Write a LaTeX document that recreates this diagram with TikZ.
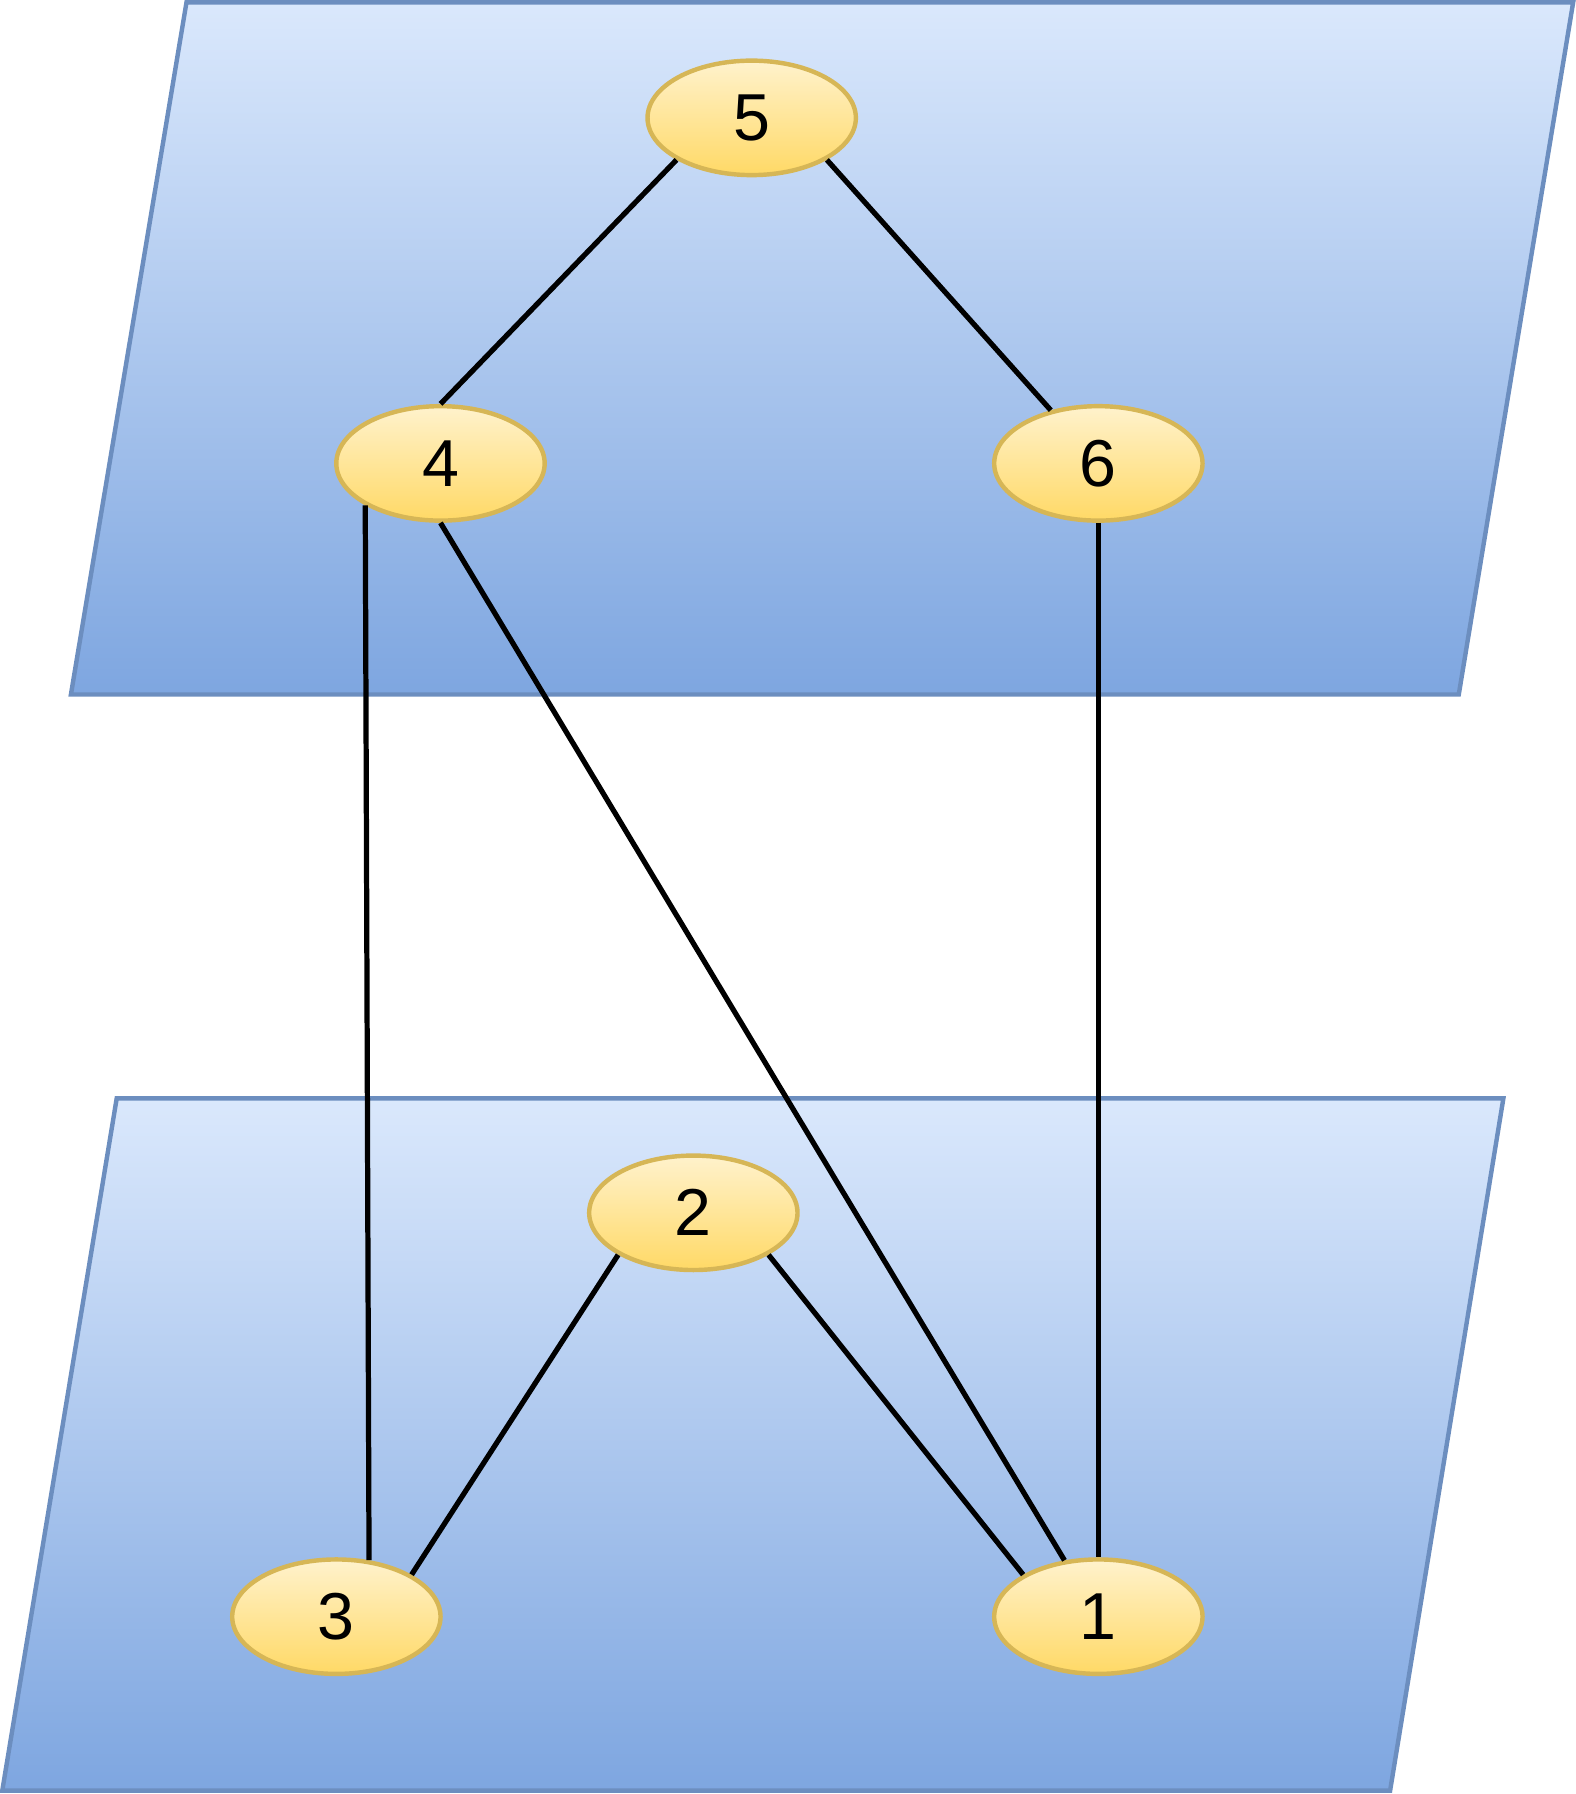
\documentclass[tikz,border=0pt]{standalone}
\usepackage{fontspec}
\setmainfont{Liberation Sans}
\usetikzlibrary{shapes.geometric}
\definecolor{planetop}{HTML}{DAE8FC}
\definecolor{planebot}{HTML}{7EA6E0}
\definecolor{planeline}{HTML}{6C8EBF}
\definecolor{vertextop}{HTML}{FFF2CC}
\definecolor{vertexbot}{HTML}{FFD966}
\definecolor{vertexline}{HTML}{D6B656}

\begin{document}
\begin{tikzpicture}[x=0.01cm,y=-0.01cm,
    plane/.style={draw=planeline,line width=1.1pt,top color=planetop,bottom color=planebot},
    vertex/.style={ellipse,draw=vertexline,line width=1.1pt,top color=vertextop,bottom color=vertexbot,
      minimum width=1.82cm,minimum height=1cm,inner sep=0pt,font=\fontsize{16.5}{19}\selectfont},
    edge/.style={line width=1.3pt}]
      \useasboundingbox (0,0) rectangle (1377,1568);
      \shade[plane] (163,2) -- (1375,2) -- (1275,607) -- (62,607) -- cycle;
      \shade[plane] (102,960) -- (1314,960) -- (1215,1565) -- (2,1565) -- cycle;
      \node[vertex] (v5) at (657,103) {5};
      \node[vertex] (v4) at (385,405) {4};
      \node[vertex] (v6) at (960,405) {6};
      \node[vertex] (v2) at (606,1060) {2};
      \node[vertex] (v3) at (294,1413) {3};
      \node[vertex] (v1) at (960,1413) {1};
      \draw[edge] (v5.south west) -- (v4.north);
      \draw[edge] (v5.south east) -- (v6);
      \draw[edge] (v4.south west) -- (v3.60);
      \draw[edge] (v4.south) -- (v1);
      \draw[edge] (v6.south) -- (v1.north);
      \draw[edge] (v2.south west) -- (v3.north east);
      \draw[edge] (v2.south east) -- (v1.north west);
    \end{tikzpicture}
\end{document}
